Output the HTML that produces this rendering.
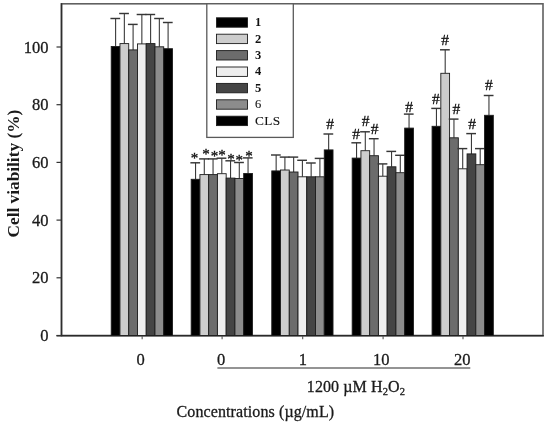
<!DOCTYPE html>
<html><head><meta charset="utf-8"><title>Cell viability chart</title>
<style>
html,body{margin:0;padding:0;background:#ffffff;}
svg text{stroke:#1a1a1a;stroke-width:0.3px;}
svg text.b{stroke:none;}
svg text.l{stroke-width:0.12px;}
body{width:550px;height:424px;overflow:hidden;position:relative;font-family:"Liberation Serif",serif;}
</style></head><body>
<svg width="550" height="424" viewBox="0 0 550 424" style="position:absolute;left:0;top:0;will-change:transform;font-family:'Liberation Serif',serif;">
<rect x="0" y="0" width="550" height="424" fill="#ffffff"/>
<rect x="61.5" y="3.8" width="481.5" height="331.7" fill="none" stroke="#606060" stroke-width="1.6"/>
<line x1="56.5" y1="335.75" x2="543.8" y2="335.75" stroke="#2a2a2a" stroke-width="1.5"/>
<line x1="61.5" y1="3.2" x2="61.5" y2="336.2" stroke="#2e2e2e" stroke-width="1.5"/>
<line x1="56.5" y1="335.50" x2="61.5" y2="335.50" stroke="#333" stroke-width="1.2"/>
<text x="48.6" y="341.00" font-size="16.5" text-anchor="end" fill="#1a1a1a">0</text>
<line x1="56.5" y1="277.80" x2="61.5" y2="277.80" stroke="#333" stroke-width="1.2"/>
<text x="48.6" y="283.30" font-size="16.5" text-anchor="end" fill="#1a1a1a">20</text>
<line x1="56.5" y1="220.10" x2="61.5" y2="220.10" stroke="#333" stroke-width="1.2"/>
<text x="48.6" y="225.60" font-size="16.5" text-anchor="end" fill="#1a1a1a">40</text>
<line x1="56.5" y1="162.40" x2="61.5" y2="162.40" stroke="#333" stroke-width="1.2"/>
<text x="48.6" y="167.90" font-size="16.5" text-anchor="end" fill="#1a1a1a">60</text>
<line x1="56.5" y1="104.70" x2="61.5" y2="104.70" stroke="#333" stroke-width="1.2"/>
<text x="48.6" y="110.20" font-size="16.5" text-anchor="end" fill="#1a1a1a">80</text>
<line x1="56.5" y1="47.00" x2="61.5" y2="47.00" stroke="#333" stroke-width="1.2"/>
<text x="48.6" y="52.50" font-size="16.5" text-anchor="end" fill="#1a1a1a">100</text>
<line x1="142.15" y1="335.5" x2="142.15" y2="339.2" stroke="#555" stroke-width="1.1"/>
<line x1="222.10" y1="335.5" x2="222.10" y2="339.2" stroke="#555" stroke-width="1.1"/>
<line x1="302.70" y1="335.5" x2="302.70" y2="339.2" stroke="#555" stroke-width="1.1"/>
<line x1="383.10" y1="335.5" x2="383.10" y2="339.2" stroke="#555" stroke-width="1.1"/>
<line x1="463.00" y1="335.5" x2="463.00" y2="339.2" stroke="#555" stroke-width="1.1"/>
<line x1="115.60" y1="18.50" x2="115.60" y2="46.50" stroke="#3a3a3a" stroke-width="1.1"/>
<line x1="110.42" y1="18.50" x2="120.17" y2="18.50" stroke="#363636" stroke-width="1.45"/>
<rect x="111.22" y="46.50" width="8.75" height="289.00" fill="#000000" stroke="#1c1c1c" stroke-width="0.9"/>
<line x1="124.35" y1="13.50" x2="124.35" y2="43.60" stroke="#3a3a3a" stroke-width="1.1"/>
<line x1="119.17" y1="13.50" x2="128.92" y2="13.50" stroke="#363636" stroke-width="1.45"/>
<rect x="119.97" y="43.60" width="8.75" height="291.90" fill="#cdcdcd" stroke="#1c1c1c" stroke-width="0.9"/>
<line x1="133.10" y1="24.40" x2="133.10" y2="49.90" stroke="#3a3a3a" stroke-width="1.1"/>
<line x1="127.92" y1="24.40" x2="137.67" y2="24.40" stroke="#363636" stroke-width="1.45"/>
<rect x="128.72" y="49.90" width="8.75" height="285.60" fill="#6c6c6c" stroke="#1c1c1c" stroke-width="0.9"/>
<line x1="141.85" y1="14.50" x2="141.85" y2="43.90" stroke="#3a3a3a" stroke-width="1.1"/>
<line x1="136.67" y1="14.50" x2="146.42" y2="14.50" stroke="#363636" stroke-width="1.45"/>
<rect x="137.47" y="43.90" width="8.75" height="291.60" fill="#eeeeee" stroke="#1c1c1c" stroke-width="0.9"/>
<line x1="150.60" y1="14.50" x2="150.60" y2="43.60" stroke="#3a3a3a" stroke-width="1.1"/>
<line x1="145.42" y1="14.50" x2="155.17" y2="14.50" stroke="#363636" stroke-width="1.45"/>
<rect x="146.22" y="43.60" width="8.75" height="291.90" fill="#454545" stroke="#1c1c1c" stroke-width="0.9"/>
<line x1="159.35" y1="18.50" x2="159.35" y2="46.80" stroke="#3a3a3a" stroke-width="1.1"/>
<line x1="154.17" y1="18.50" x2="163.92" y2="18.50" stroke="#363636" stroke-width="1.45"/>
<rect x="154.97" y="46.80" width="8.75" height="288.70" fill="#8c8c8c" stroke="#1c1c1c" stroke-width="0.9"/>
<line x1="168.10" y1="22.50" x2="168.10" y2="48.70" stroke="#3a3a3a" stroke-width="1.1"/>
<line x1="162.92" y1="22.50" x2="172.67" y2="22.50" stroke="#363636" stroke-width="1.45"/>
<rect x="163.72" y="48.70" width="8.75" height="286.80" fill="#000000" stroke="#1c1c1c" stroke-width="0.9"/>
<line x1="195.55" y1="162.80" x2="195.55" y2="179.30" stroke="#3a3a3a" stroke-width="1.1"/>
<line x1="190.38" y1="162.80" x2="200.12" y2="162.80" stroke="#363636" stroke-width="1.45"/>
<rect x="191.18" y="179.30" width="8.75" height="156.20" fill="#000000" stroke="#1c1c1c" stroke-width="0.9"/>
<line x1="204.30" y1="158.90" x2="204.30" y2="174.60" stroke="#3a3a3a" stroke-width="1.1"/>
<line x1="199.12" y1="158.90" x2="208.88" y2="158.90" stroke="#363636" stroke-width="1.45"/>
<rect x="199.93" y="174.60" width="8.75" height="160.90" fill="#cdcdcd" stroke="#1c1c1c" stroke-width="0.9"/>
<line x1="213.05" y1="158.90" x2="213.05" y2="174.60" stroke="#3a3a3a" stroke-width="1.1"/>
<line x1="207.88" y1="158.90" x2="217.62" y2="158.90" stroke="#363636" stroke-width="1.45"/>
<rect x="208.68" y="174.60" width="8.75" height="160.90" fill="#6c6c6c" stroke="#1c1c1c" stroke-width="0.9"/>
<line x1="221.80" y1="158.20" x2="221.80" y2="173.70" stroke="#3a3a3a" stroke-width="1.1"/>
<line x1="216.62" y1="158.20" x2="226.38" y2="158.20" stroke="#363636" stroke-width="1.45"/>
<rect x="217.43" y="173.70" width="8.75" height="161.80" fill="#eeeeee" stroke="#1c1c1c" stroke-width="0.9"/>
<line x1="230.55" y1="160.80" x2="230.55" y2="178.10" stroke="#3a3a3a" stroke-width="1.1"/>
<line x1="225.38" y1="160.80" x2="235.12" y2="160.80" stroke="#363636" stroke-width="1.45"/>
<rect x="226.18" y="178.10" width="8.75" height="157.40" fill="#454545" stroke="#1c1c1c" stroke-width="0.9"/>
<line x1="239.30" y1="162.50" x2="239.30" y2="178.50" stroke="#3a3a3a" stroke-width="1.1"/>
<line x1="234.12" y1="162.50" x2="243.88" y2="162.50" stroke="#363636" stroke-width="1.45"/>
<rect x="234.93" y="178.50" width="8.75" height="157.00" fill="#8c8c8c" stroke="#1c1c1c" stroke-width="0.9"/>
<line x1="248.05" y1="157.90" x2="248.05" y2="173.50" stroke="#3a3a3a" stroke-width="1.1"/>
<line x1="242.88" y1="157.90" x2="252.62" y2="157.90" stroke="#363636" stroke-width="1.45"/>
<rect x="243.68" y="173.50" width="8.75" height="162.00" fill="#000000" stroke="#1c1c1c" stroke-width="0.9"/>
<line x1="276.15" y1="155.00" x2="276.15" y2="170.90" stroke="#3a3a3a" stroke-width="1.1"/>
<line x1="270.97" y1="155.00" x2="280.72" y2="155.00" stroke="#363636" stroke-width="1.45"/>
<rect x="271.77" y="170.90" width="8.75" height="164.60" fill="#000000" stroke="#1c1c1c" stroke-width="0.9"/>
<line x1="284.90" y1="157.10" x2="284.90" y2="170.00" stroke="#3a3a3a" stroke-width="1.1"/>
<line x1="279.72" y1="157.10" x2="289.47" y2="157.10" stroke="#363636" stroke-width="1.45"/>
<rect x="280.52" y="170.00" width="8.75" height="165.50" fill="#cdcdcd" stroke="#1c1c1c" stroke-width="0.9"/>
<line x1="293.65" y1="157.10" x2="293.65" y2="172.00" stroke="#3a3a3a" stroke-width="1.1"/>
<line x1="288.47" y1="157.10" x2="298.22" y2="157.10" stroke="#363636" stroke-width="1.45"/>
<rect x="289.27" y="172.00" width="8.75" height="163.50" fill="#6c6c6c" stroke="#1c1c1c" stroke-width="0.9"/>
<line x1="302.40" y1="160.30" x2="302.40" y2="176.80" stroke="#3a3a3a" stroke-width="1.1"/>
<line x1="297.22" y1="160.30" x2="306.97" y2="160.30" stroke="#363636" stroke-width="1.45"/>
<rect x="298.02" y="176.80" width="8.75" height="158.70" fill="#eeeeee" stroke="#1c1c1c" stroke-width="0.9"/>
<line x1="311.15" y1="163.00" x2="311.15" y2="176.80" stroke="#3a3a3a" stroke-width="1.1"/>
<line x1="305.97" y1="163.00" x2="315.72" y2="163.00" stroke="#363636" stroke-width="1.45"/>
<rect x="306.77" y="176.80" width="8.75" height="158.70" fill="#454545" stroke="#1c1c1c" stroke-width="0.9"/>
<line x1="319.90" y1="158.40" x2="319.90" y2="176.80" stroke="#3a3a3a" stroke-width="1.1"/>
<line x1="314.72" y1="158.40" x2="324.47" y2="158.40" stroke="#363636" stroke-width="1.45"/>
<rect x="315.52" y="176.80" width="8.75" height="158.70" fill="#8c8c8c" stroke="#1c1c1c" stroke-width="0.9"/>
<line x1="328.65" y1="134.00" x2="328.65" y2="149.90" stroke="#3a3a3a" stroke-width="1.1"/>
<line x1="323.47" y1="134.00" x2="333.22" y2="134.00" stroke="#363636" stroke-width="1.45"/>
<rect x="324.27" y="149.90" width="8.75" height="185.60" fill="#000000" stroke="#1c1c1c" stroke-width="0.9"/>
<line x1="356.55" y1="142.80" x2="356.55" y2="158.10" stroke="#3a3a3a" stroke-width="1.1"/>
<line x1="351.38" y1="142.80" x2="361.12" y2="142.80" stroke="#363636" stroke-width="1.45"/>
<rect x="352.18" y="158.10" width="8.75" height="177.40" fill="#000000" stroke="#1c1c1c" stroke-width="0.9"/>
<line x1="365.30" y1="131.80" x2="365.30" y2="150.70" stroke="#3a3a3a" stroke-width="1.1"/>
<line x1="360.12" y1="131.80" x2="369.88" y2="131.80" stroke="#363636" stroke-width="1.45"/>
<rect x="360.93" y="150.70" width="8.75" height="184.80" fill="#cdcdcd" stroke="#1c1c1c" stroke-width="0.9"/>
<line x1="374.05" y1="138.70" x2="374.05" y2="155.70" stroke="#3a3a3a" stroke-width="1.1"/>
<line x1="368.88" y1="138.70" x2="378.62" y2="138.70" stroke="#363636" stroke-width="1.45"/>
<rect x="369.68" y="155.70" width="8.75" height="179.80" fill="#6c6c6c" stroke="#1c1c1c" stroke-width="0.9"/>
<line x1="382.80" y1="163.90" x2="382.80" y2="176.20" stroke="#3a3a3a" stroke-width="1.1"/>
<line x1="377.62" y1="163.90" x2="387.38" y2="163.90" stroke="#363636" stroke-width="1.45"/>
<rect x="378.43" y="176.20" width="8.75" height="159.30" fill="#eeeeee" stroke="#1c1c1c" stroke-width="0.9"/>
<line x1="391.55" y1="151.40" x2="391.55" y2="166.80" stroke="#3a3a3a" stroke-width="1.1"/>
<line x1="386.38" y1="151.40" x2="396.12" y2="151.40" stroke="#363636" stroke-width="1.45"/>
<rect x="387.18" y="166.80" width="8.75" height="168.70" fill="#454545" stroke="#1c1c1c" stroke-width="0.9"/>
<line x1="400.30" y1="155.30" x2="400.30" y2="172.70" stroke="#3a3a3a" stroke-width="1.1"/>
<line x1="395.12" y1="155.30" x2="404.88" y2="155.30" stroke="#363636" stroke-width="1.45"/>
<rect x="395.93" y="172.70" width="8.75" height="162.80" fill="#8c8c8c" stroke="#1c1c1c" stroke-width="0.9"/>
<line x1="409.05" y1="114.10" x2="409.05" y2="128.10" stroke="#3a3a3a" stroke-width="1.1"/>
<line x1="403.88" y1="114.10" x2="413.62" y2="114.10" stroke="#363636" stroke-width="1.45"/>
<rect x="404.68" y="128.10" width="8.75" height="207.40" fill="#000000" stroke="#1c1c1c" stroke-width="0.9"/>
<line x1="436.45" y1="108.40" x2="436.45" y2="126.30" stroke="#3a3a3a" stroke-width="1.1"/>
<line x1="431.27" y1="108.40" x2="441.02" y2="108.40" stroke="#363636" stroke-width="1.45"/>
<rect x="432.07" y="126.30" width="8.75" height="209.20" fill="#000000" stroke="#1c1c1c" stroke-width="0.9"/>
<line x1="445.20" y1="49.80" x2="445.20" y2="73.30" stroke="#3a3a3a" stroke-width="1.1"/>
<line x1="440.02" y1="49.80" x2="449.77" y2="49.80" stroke="#363636" stroke-width="1.45"/>
<rect x="440.82" y="73.30" width="8.75" height="262.20" fill="#cdcdcd" stroke="#1c1c1c" stroke-width="0.9"/>
<line x1="453.95" y1="119.10" x2="453.95" y2="137.80" stroke="#3a3a3a" stroke-width="1.1"/>
<line x1="448.77" y1="119.10" x2="458.52" y2="119.10" stroke="#363636" stroke-width="1.45"/>
<rect x="449.57" y="137.80" width="8.75" height="197.70" fill="#6c6c6c" stroke="#1c1c1c" stroke-width="0.9"/>
<line x1="462.70" y1="148.60" x2="462.70" y2="168.80" stroke="#3a3a3a" stroke-width="1.1"/>
<line x1="457.52" y1="148.60" x2="467.27" y2="148.60" stroke="#363636" stroke-width="1.45"/>
<rect x="458.32" y="168.80" width="8.75" height="166.70" fill="#eeeeee" stroke="#1c1c1c" stroke-width="0.9"/>
<line x1="471.45" y1="133.60" x2="471.45" y2="153.90" stroke="#3a3a3a" stroke-width="1.1"/>
<line x1="466.27" y1="133.60" x2="476.02" y2="133.60" stroke="#363636" stroke-width="1.45"/>
<rect x="467.07" y="153.90" width="8.75" height="181.60" fill="#454545" stroke="#1c1c1c" stroke-width="0.9"/>
<line x1="480.20" y1="148.60" x2="480.20" y2="164.70" stroke="#3a3a3a" stroke-width="1.1"/>
<line x1="475.02" y1="148.60" x2="484.77" y2="148.60" stroke="#363636" stroke-width="1.45"/>
<rect x="475.82" y="164.70" width="8.75" height="170.80" fill="#8c8c8c" stroke="#1c1c1c" stroke-width="0.9"/>
<line x1="488.95" y1="95.50" x2="488.95" y2="115.30" stroke="#3a3a3a" stroke-width="1.1"/>
<line x1="483.77" y1="95.50" x2="493.52" y2="95.50" stroke="#363636" stroke-width="1.45"/>
<rect x="484.57" y="115.30" width="8.75" height="220.20" fill="#000000" stroke="#1c1c1c" stroke-width="0.9"/>
<text x="194.5" y="162.5" font-size="15" text-anchor="middle" fill="#000">*</text>
<text x="205.9" y="158.8" font-size="15" text-anchor="middle" fill="#000">*</text>
<text x="214.6" y="161.0" font-size="15" text-anchor="middle" fill="#000">*</text>
<text x="221.9" y="160.3" font-size="15" text-anchor="middle" fill="#000">*</text>
<text x="230.9" y="163.6" font-size="15" text-anchor="middle" fill="#000">*</text>
<text x="239.2" y="165.4" font-size="15" text-anchor="middle" fill="#000">*</text>
<text x="249.1" y="161.0" font-size="15" text-anchor="middle" fill="#000">*</text>
<text x="330.0" y="129.4" font-size="15.5" text-anchor="middle" fill="#000">#</text>
<text x="356.0" y="139.4" font-size="15.5" text-anchor="middle" fill="#000">#</text>
<text x="365.6" y="125.8" font-size="15.5" text-anchor="middle" fill="#000">#</text>
<text x="374.7" y="134.1" font-size="15.5" text-anchor="middle" fill="#000">#</text>
<text x="409.1" y="111.8" font-size="15.5" text-anchor="middle" fill="#000">#</text>
<text x="435.9" y="103.6" font-size="15.5" text-anchor="middle" fill="#000">#</text>
<text x="445.1" y="44.5" font-size="15.5" text-anchor="middle" fill="#000">#</text>
<text x="456.4" y="113.7" font-size="15.5" text-anchor="middle" fill="#000">#</text>
<text x="472.0" y="128.5" font-size="15.5" text-anchor="middle" fill="#000">#</text>
<text x="488.9" y="89.6" font-size="15.5" text-anchor="middle" fill="#000">#</text>
<rect x="206.8" y="3.8" width="86.5" height="133.6" fill="#ffffff" stroke="#5a5a5a" stroke-width="1.3"/>
<rect x="216.5" y="17.80" width="31.0" height="9.4" fill="#000000" stroke="#1c1c1c" stroke-width="0.9"/>
<text x="255" y="26.10" font-size="12.5" font-weight="bold" class="b" fill="#111">1</text>
<rect x="216.5" y="34.20" width="31.0" height="9.4" fill="#cdcdcd" stroke="#1c1c1c" stroke-width="0.9"/>
<text x="255" y="42.50" font-size="12.5" font-weight="bold" class="b" fill="#111">2</text>
<rect x="216.5" y="50.60" width="31.0" height="9.4" fill="#6c6c6c" stroke="#1c1c1c" stroke-width="0.9"/>
<text x="255" y="58.90" font-size="12.5" font-weight="bold" class="b" fill="#111">3</text>
<rect x="216.5" y="67.00" width="31.0" height="9.4" fill="#eeeeee" stroke="#1c1c1c" stroke-width="0.9"/>
<text x="255" y="75.30" font-size="12.5" font-weight="bold" class="b" fill="#111">4</text>
<rect x="216.5" y="83.40" width="31.0" height="9.4" fill="#454545" stroke="#1c1c1c" stroke-width="0.9"/>
<text x="255" y="91.70" font-size="12.5" font-weight="bold" class="b" fill="#111">5</text>
<rect x="216.5" y="99.80" width="31.0" height="9.4" fill="#8c8c8c" stroke="#1c1c1c" stroke-width="0.9"/>
<text x="255" y="108.10" font-size="12.5" font-weight="normal" class="l" fill="#111">6</text>
<rect x="216.5" y="116.20" width="31.0" height="9.4" fill="#000000" stroke="#1c1c1c" stroke-width="0.9"/>
<text x="255" y="124.50" font-size="13.3" font-weight="normal" letter-spacing="0.4" class="l" fill="#111">CLS</text>
<text x="140.55" y="365.3" font-size="16.5" text-anchor="middle" fill="#1a1a1a">0</text>
<text x="221.20" y="365.3" font-size="16.5" text-anchor="middle" fill="#1a1a1a">0</text>
<text x="302.80" y="365.3" font-size="16.5" text-anchor="middle" fill="#1a1a1a">1</text>
<text x="381.20" y="365.3" font-size="16.5" text-anchor="middle" fill="#1a1a1a">10</text>
<text x="462.30" y="365.3" font-size="16.5" text-anchor="middle" fill="#1a1a1a">20</text>
<line x1="217.4" y1="368" x2="470.3" y2="368" stroke="#2a2a2a" stroke-width="1.1"/>
<text x="306.8" y="392" letter-spacing="0.1" font-size="16" fill="#1a1a1a">1200 µM H<tspan font-size="10.5" dy="2.8">2</tspan><tspan dy="-2.8">O</tspan><tspan font-size="10.5" dy="2.8">2</tspan></text>
<text x="176.6" y="416.6" letter-spacing="0.1" font-size="16" fill="#1a1a1a">Concentrations (µg/mL)</text>
<text transform="translate(19.3,237.5) rotate(-90)" class="b" font-size="17.3" font-weight="bold" fill="#1a1a1a">Cell viability (%)</text>
</svg>
</body></html>
